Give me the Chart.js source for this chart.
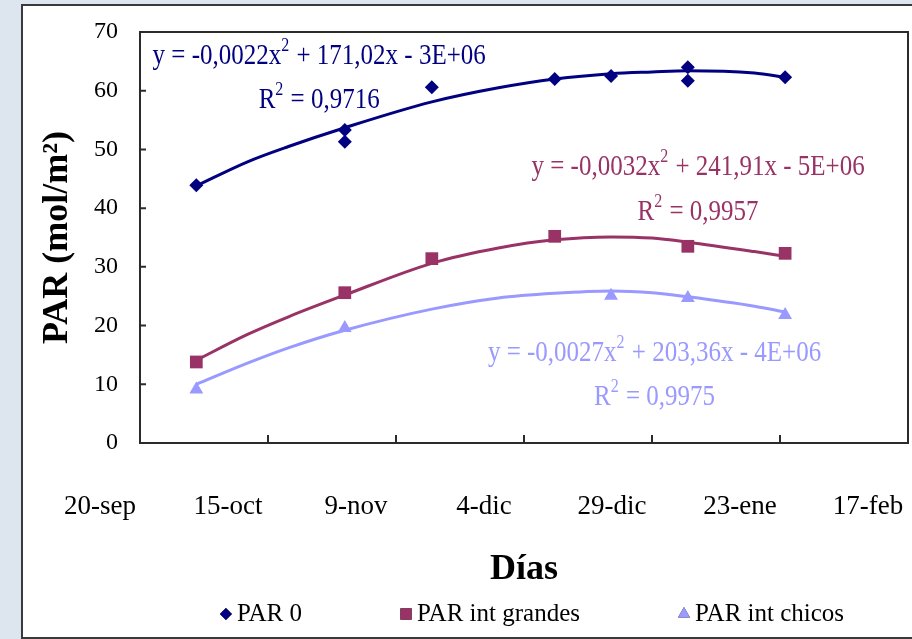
<!DOCTYPE html>
<html>
<head>
<meta charset="utf-8">
<script src="https://cdn.jsdelivr.net/npm/chart.js@4.4.1/dist/chart.umd.min.js"></script>
<style>
    html, body { margin: 0; padding: 0; background: #dde6ef; }
    #frame { position: absolute; left: 21px; top: 4px; width: 900px; height: 631px; border: 2px solid #3a3a3a; background: #fff; }
    canvas { display: block; }
</style>
</head>
<body>
<div id="frame"><canvas id="chart" width="894" height="631"></canvas></div>
<script>
// x axis = days counted from 20-sep, ticks every 25 days
const tickDays = [0, 25, 50, 75, 100, 125, 150];
const tickLabels = ['20-sep', '15-oct', '9-nov', '4-dic', '29-dic', '23-ene', '17-feb'];

// measured points
const par0Days = [11, 40, 40, 57, 81, 92, 107, 107, 126];
const par0Values = [43.9, 53.3, 51.3, 60.6, 62.0, 62.5, 64.0, 61.7, 62.3];
const grandesDays = [11, 40, 57, 81, 107, 126];
const grandesValues = [13.8, 25.6, 31.4, 35.2, 33.5, 32.3];
const chicosDays = [11, 40, 92, 107, 126];
const chicosValues = [9.1, 19.6, 25.1, 24.7, 21.8];

// polynomial trend lines
const trendDays = [11, 21, 29, 40, 57, 70, 81, 92, 100, 107, 120, 126];
const par0Trend = [43.8, 47.9, 50.5, 53.7, 58.1, 60.5, 62.0, 62.9, 63.2, 63.4, 63.0, 62.3];
const grandesTrend = [14.1, 18.5, 21.5, 25.2, 30.6, 33.2, 34.6, 35.1, 34.9, 34.2, 32.6, 31.8];
const chicosTrend = [10.0, 13.6, 16.2, 19.2, 22.8, 24.7, 25.5, 25.9, 25.6, 24.9, 23.3, 22.3];

const seriesNames = ['PAR 0', 'PAR int grandes', 'PAR int chicos'];
const equations = [
    ['y = -0,0022x² + 171,02x - 3E+06', 'R² = 0,9716'],
    ['y = -0,0032x² + 241,91x - 5E+06', 'R² = 0,9957'],
    ['y = -0,0027x² + 203,36x - 4E+06', 'R² = 0,9975']
];

const colors = ['#000080', '#993366', '#9999ff'];
const styles = ['rectRot', 'rect', 'triangle'];
const radii = [7, 9, 8];
const legendRadii = [6, 8, 7];
const serif = '"Liberation Serif", "Times New Roman", serif';

Chart.defaults.font.family = serif;
Chart.defaults.color = '#000';

const toPoints = (xs, ys) => xs.map((x, i) => ({ x: x, y: ys[i] }));

const markers = [[par0Days, par0Values], [grandesDays, grandesValues], [chicosDays, chicosValues]];
const trends = [par0Trend, grandesTrend, chicosTrend];

const datasets = [];
markers.forEach((m, i) => {
    datasets.push({
        label: seriesNames[i],
        data: toPoints(m[0], m[1]),
        showLine: false,
        pointStyle: styles[i],
        pointRadius: radii[i],
        pointHoverRadius: radii[i],
        backgroundColor: colors[i],
        borderColor: colors[i],
        pointBorderWidth: 0
    });
});
trends.forEach((t, i) => {
    datasets.push({
        label: 'trend ' + i,
        data: toPoints(trendDays, t),
        showLine: true,
        pointRadius: 0,
        borderColor: colors[i],
        borderWidth: 3,
        cubicInterpolationMode: 'monotone'
    });
});

// text with a raised "2", stretched a bit vertically like the original
function drawSupText(ctx, text, cx, cy, size, color) {
    const parts = text.split('²');
    const main = size + 'px ' + serif;
    const sup = Math.round(size * 0.65) + 'px ' + serif;
    ctx.save();
    ctx.translate(cx, cy);
    ctx.scale(1, 1.18);
    ctx.font = main;
    const w0 = ctx.measureText(parts[0]).width;
    const w2 = parts[1] !== undefined ? ctx.measureText(parts[1]).width : 0;
    ctx.font = sup;
    const w1 = parts[1] !== undefined ? ctx.measureText('2').width + 1 : 0;
    let x = -(w0 + w1 + w2) / 2;
    ctx.fillStyle = color;
    ctx.textBaseline = 'middle';
    ctx.textAlign = 'left';
    ctx.font = main;
    ctx.fillText(parts[0], x, 0);
    x += w0;
    if (parts[1] !== undefined) {
        ctx.font = sup;
        ctx.fillText('2', x, -size * 0.35);
        x += w1;
        ctx.font = main;
        ctx.fillText(parts[1], x, 0);
    }
    ctx.restore();
}

// anchors of the equation labels, in axis units (day, PAR)
const eqAnchors = [[[35, 65.8], [35, 58.4]], [[109, 47.0], [109, 39.3]], [[100.5, 15.3], [100.5, 7.8]]];

const extras = {
    id: 'extras',
    afterDraw(chart) {
        const ctx = chart.ctx;
        const a = chart.chartArea;
        const xs = chart.scales.x;
        const ys = chart.scales.y;
        ctx.save();
        // plot box
        ctx.strokeStyle = '#2b2b2b';
        ctx.lineWidth = 2;
        ctx.strokeRect(a.left, a.top, a.right - a.left, a.bottom - a.top);
        // inward ticks
        ctx.beginPath();
        ys.ticks.forEach(t => {
            const py = ys.getPixelForValue(t.value);
            ctx.moveTo(a.left, py);
            ctx.lineTo(a.left + 6, py);
        });
        xs.ticks.forEach(t => {
            const px = xs.getPixelForValue(t.value);
            ctx.moveTo(px, a.bottom);
            ctx.lineTo(px, a.bottom - 8);
        });
        ctx.stroke();

        // trend equations
        equations.forEach((lines, i) => {
            lines.forEach((txt, j) => {
                const p = eqAnchors[i][j];
                drawSupText(ctx, txt, xs.getPixelForValue(p[0]), ys.getPixelForValue(p[1]), 25, colors[i]);
            });
        });

        // legend
        ctx.font = '25px ' + serif;
        const gap = 98;
        const widths = seriesNames.map(n => 17 + ctx.measureText(n).width);
        const total = widths.reduce((s, w) => s + w, 0) + gap * (widths.length - 1);
        let x = (a.left + a.right) / 2 + 8 - total / 2;
        const ly = 608;
        seriesNames.forEach((n, i) => {
            Chart.helpers.drawPoint(ctx, { pointStyle: styles[i], radius: legendRadii[i], rotation: 0, borderWidth: 0 }, x + 6, ly);
            ctx.fillStyle = colors[i];
            ctx.fill();
            ctx.fillStyle = '#000';
            ctx.textAlign = 'left';
            ctx.textBaseline = 'middle';
            ctx.fillText(n, x + 17, ly);
            x += widths[i] + gap;
        });
        ctx.restore();
    }
};

new Chart(document.getElementById('chart'), {
    type: 'scatter',
    data: { datasets: datasets },
    options: {
        responsive: false,
        animation: false,
        layout: { padding: { top: 26, right: 0, left: 0, bottom: 0 } },
        plugins: {
            legend: { display: false },
            tooltip: { enabled: false }
        },
        scales: {
            x: {
                type: 'linear',
                min: 0,
                max: 150,
                afterBuildTicks: s => { s.ticks = tickDays.map(v => ({ value: v })); },
                afterFit: s => {
                    s.height = 194;
                    s.paddingLeft = 0;
                    s.paddingRight = 0;
                },
                grid: { display: false, drawTicks: false },
                border: { display: false },
                ticks: {
                    callback: (v, i) => tickLabels[i],
                    font: { size: 27 },
                    padding: 48,
                    labelOffset: -40,
                    maxRotation: 0,
                    autoSkip: false
                },
                title: {
                    display: true,
                    text: 'Días',
                    font: { size: 36, weight: 'bold' },
                    padding: { top: 0, bottom: 46 }
                }
            },
            y: {
                min: 0,
                max: 70,
                afterFit: s => {
                    s.width = 117;
                    s.paddingTop = 0;
                    s.paddingBottom = 0;
                },
                grid: { display: false, drawTicks: false },
                border: { display: false },
                ticks: { stepSize: 10, font: { size: 24 }, padding: 22 },
                title: {
                    display: true,
                    text: 'PAR (mol/m²)',
                    font: { size: 36, weight: 'bold' },
                    padding: { top: 13, bottom: 0 }
                }
            }
        }
    },
    plugins: [extras]
});
</script>
</body>
</html>
